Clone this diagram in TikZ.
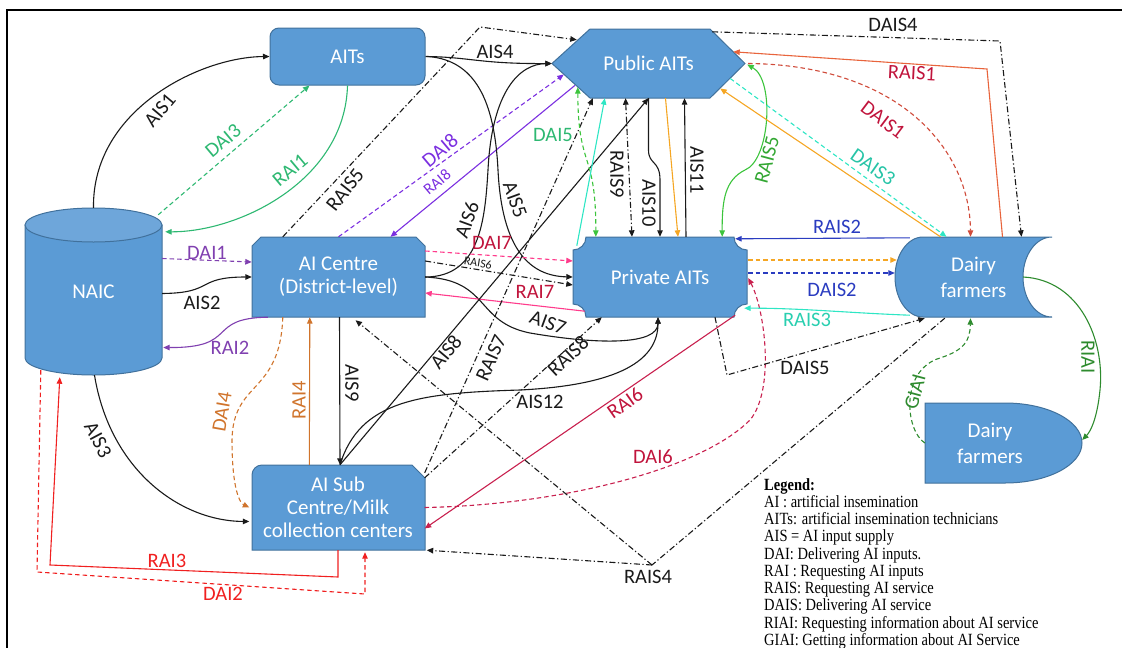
\documentclass[tikz,border=0pt]{standalone}
\usepackage{fontspec}
\usepackage{graphicx}
\setmainfont{Carlito}
\newfontfamily\legendfont{Liberation Serif}
\usetikzlibrary{arrows.meta,calc}
\definecolor{nb}{HTML}{5B9BD5}
\definecolor{nbd}{HTML}{41719C}
\definecolor{nbtop}{HTML}{6EA6DA}
\definecolor{ink}{HTML}{1A1A1A}
\definecolor{mint}{HTML}{2EB872}
\definecolor{lgreen}{HTML}{3CC43C}
\definecolor{dgreen}{HTML}{2E8B2E}
\definecolor{purp}{HTML}{8040B0}
\definecolor{viol}{HTML}{7B2FE0}
\definecolor{red1}{HTML}{F02020}
\definecolor{crim}{HTML}{C0143C}
\definecolor{crimline}{HTML}{C8204E}
\definecolor{pink1}{HTML}{FF3C8C}
\definecolor{brick}{HTML}{D04B3A}
\definecolor{orrd}{HTML}{E8643C}
\definecolor{brown1}{HTML}{D0742C}
\definecolor{gold1}{HTML}{F5A623}
\definecolor{turq}{HTML}{2EE6C4}
\definecolor{blue1}{HTML}{2A3CC0}
\tikzset{
  lbl/.style={font=\fontsize{20.5}{22}\selectfont, inner sep=0pt, text=ink},
  nodetxt/.style={font=\fontsize{21}{26}\selectfont, text=white, align=center, inner sep=0pt},
  shp/.style={fill=nb, draw=nbd, line width=1pt},
  con/.style={line width=1.1pt, ink, -{Triangle[length=6.5pt,width=5.5pt]}},
  dbl/.style={{Triangle[length=6.5pt,width=5.5pt]}-{Triangle[length=6.5pt,width=5.5pt]}},
  dsh/.style={dash pattern=on 4.5pt off 3pt},
  dd/.style={dash pattern=on 6pt off 2.5pt on 1.2pt off 2.5pt},
}
\begin{document}
\begin{tikzpicture}[x=1pt,y=-1pt]
\useasboundingbox (0,0) rectangle (1122,648);
\draw[line width=1.2pt] (7,648) -- (7,10) -- (1122,10);

% ---------- shapes ----------
\filldraw[shp] (552,63.5) -- (590,29) -- (710,29) -- (745,63.5) -- (710,98) -- (590,98) -- cycle;
\filldraw[shp] (25,225) -- (25,358) arc[start angle=180,end angle=0,x radius=68.5,y radius=17] -- (162,225) -- cycle;
\filldraw[shp, fill=nbtop] (93.5,225) ellipse[x radius=68.5,y radius=17];
\filldraw[shp] (252,246) -- (261,237) -- (416,237) -- (425,246) -- (425,317) -- (252,317) -- cycle;
\filldraw[shp] (586,237) -- (734,237) arc[start angle=180,end angle=90,radius=13] -- (747,304) arc[start angle=270,end angle=180,radius=13] -- (586,317) arc[start angle=360,end angle=270,radius=13] -- (573,250) arc[start angle=90,end angle=0,radius=13] -- cycle;
\filldraw[shp] (923,237) -- (1052,237) arc[start angle=270,end angle=90,x radius=29,y radius=40] -- (923,317) arc[start angle=90,end angle=270,x radius=28,y radius=40] -- cycle;
\filldraw[shp] (925,403) -- (1005,403) arc[start angle=270,end angle=450,x radius=77,y radius=40] -- (925,483) -- cycle;
\filldraw[shp] (252,475) arc[start angle=180,end angle=270,radius=10] -- (412,465) -- (425,478) -- (425,550) -- (252,550) -- cycle;

% ---------- nodes ----------
\node[nodetxt, shp, rounded corners=9pt, minimum width=155pt, minimum height=57pt] (aits) at (347.5,56.5) {AITs};
\node[nodetxt, minimum width=193pt, minimum height=69pt] (pub) at (648.5,63.5) {Public AITs};
\node[nodetxt, minimum width=137pt, minimum height=167pt] (naic) at (93.5,291.5) {\raisebox{-10pt}{NAIC}};
\node[nodetxt, minimum width=173pt, minimum height=80pt] (aic) at (338.5,277) {\raisebox{-3pt}{AI Centre}\\(District-level)};
\node[nodetxt, minimum width=174pt, minimum height=80pt] (priv) at (660,277) {Private AITs};
\node[nodetxt, minimum width=157pt, minimum height=80pt] (dairy) at (973.5,277) {Dairy\\farmers};
\node[nodetxt, minimum width=130pt, minimum height=80pt] (dairy2) at (990,443) {Dairy\\farmers};
\node[nodetxt, minimum width=173pt, minimum height=85pt, font=\fontsize{21}{23}\selectfont] (sub) at (338,507.5) {AI Sub\\Centre/Milk\\collection centers};

\node[anchor=north west, inner sep=0pt, text=black, font=\legendfont\fontsize{14.5}{14.6}\selectfont] (legend) at (764,478) {\scalebox{1}[1.18]{\begin{tabular}{@{}l@{}}\textbf{Legend:}\\AI : artificial insemination\\AITs: artificial insemination technicians\\AIS = AI input supply\\DAI: Delivering AI inputs.\\RAI : Requesting AI inputs\\RAIS: Requesting AI service\\DAIS: Delivering AI service\\RIAI: Requesting information about AI service\\GIAI: Getting information about AI Service\end{tabular}}};

% ---------- NAIC / AITs ----------
\draw[con] (naic.north) .. controls (92,110) and (200,57) .. (aits.west);
\node[lbl, rotate=50] (l1) at (160,110) {AIS1};
\draw[con, mint, dsh] ($(naic.north east)+(-4,7)$) -- ($(aits.south west)+(40,0)$);
\node[lbl, mint, rotate=40] (l2) at (223,141) {DAI3};
\draw[con, mint] (aits.south) .. controls (345,180) and (240,232) .. ($(naic.north east)+(3,24)$);
\node[lbl, mint, rotate=40] (l3) at (290,170) {RAI1};

% ---------- NAIC / AI Centre ----------
\draw[con, purp, dsh] ($(naic.east)+(0,-33)$) -- ($(aic.west)+(0,-15)$);
\node[lbl, purp] (l4) at (207,253) {DAI1};
\draw[con] ($(naic.east)+(0,2)$) .. controls (215,293) and (195,277) .. (aic.west);
\node[lbl] (l5) at (202,303) {AIS2};
\draw[con, purp] ($(aic.south west)+(16,0)$) .. controls (205,318) and (240,348) .. ($(naic.east)+(1,56)$);
\node[lbl, purp] (l6) at (230,348) {RAI2};

% ---------- NAIC / Sub ----------
\draw[con] ($(naic.south)+(1,0)$) .. controls (110,470) and (180,521) .. ($(sub.west)+(-2,14)$);
\node[lbl, rotate=-62] (l7) at (98,440) {AIS3};
\draw[con, red1] (sub.south) -- (338,577) -- (50,565) -- ($(naic.south west)+(35,2)$);
\node[lbl, red1] (l8) at (167,561) {RAI3};
\draw[con, red1, dsh] ($(naic.south west)+(16,-5)$) -- (37,572) -- (365,594) -- ($(sub.south)+(27,2)$);
\node[lbl, red1] (l9) at (223,594) {DAI2};

% ---------- AI Centre / Sub ----------
\draw[con, brown1, dsh] ($(aic.south west)+(31,0)$) .. controls (280,395) and (233,380) .. (232,440) .. controls (232,490) and (240,503) .. ($(sub.west)+(-2,0)$);
\node[lbl, brown1, rotate=80] (l10) at (222,412) {DAI4};
\draw[con, brown1] ($(sub.north west)+(58,0)$) -- ($(aic.south west)+(58,0)$);
\node[lbl, brown1, rotate=90] (l11) at (299,400) {RAI4};
\draw[con] ($(aic.south)+(1,0)$) -- ($(sub.north)+(2,0)$);
\node[lbl, rotate=-90] (l12) at (352,383) {AIS9};

% ---------- AI Centre / Public ----------
\draw[con, dd] ($(aic.north west)+(31,0)$) -- (480,27) -- ($(pub.north west)+(25,11)$);
\node[lbl, rotate=52] (l13) at (345,190) {RAIS5};
\draw[con, viol, dsh] (aic.north) -- ($(pub.west)+(12,11)$);
\node[lbl, viol, rotate=40] (l14) at (440,150) {DAI8};
\draw[con, viol] ($(pub.west)+(23,22)$) -- ($(aic.north)+(52,0)$);
\node[lbl, viol, rotate=40, font=\fontsize{16}{18}\selectfont] (l15) at (437,182) {RAI8};
\draw[con] (aits.east) .. controls (470,57) and (480,64) .. (pub.west);
\node[lbl] (l16) at (495,52) {AIS4};
\draw[con] ($(aits.east)+(2,0)$) .. controls (480,60) and (495,110) .. (498,170) .. controls (502,250) and (530,276) .. (priv.west);
\node[lbl, rotate=-70] (l17) at (515,200) {AIS5};
\draw[con] (aic.east) .. controls (480,277) and (485,220) .. (488,170) .. controls (492,90) and (520,64) .. (pub.west);
\node[lbl, rotate=70] (l18) at (467,220) {AIS6};

% ---------- AI Centre / Private ----------
\draw[con, pink1, dsh] ($(aic.east)+(0,-26)$) -- ($(priv.west)+(0,-16)$);
\node[lbl, crim] (l19) at (492,243) {DAI7};
\draw[con, dd] ($(aic.east)+(0,-16)$) -- ($(priv.west)+(0,8)$);
\node[lbl, rotate=-9, font=\fontsize{12}{14}\selectfont] (l20) at (478,263) {RAIS6};
\draw[con] (aic.east) .. controls (490,280) and (475,322) .. (530,333) .. controls (600,345) and (658,345) .. ($(priv.south)+(-2,0)$);
\node[lbl, rotate=-20] (l21) at (548,323) {AIS7};
\draw[con, pink1] ($(priv.south west)+(12,-6)$) -- ($(aic.east)+(0,16)$);
\node[lbl, crim] (l22) at (535,292) {RAI7};

% ---------- Sub / Public / Private ----------
\draw[con] ($(sub.north)+(2,0)$) -- (pub.south);
\node[lbl, rotate=50] (l23) at (446,352) {AIS8};
\draw[con] ($(sub.north)+(2,0)$) .. controls (360,400) and (420,393) .. (520,390) .. controls (620,385) and (658,360) .. ($(priv.south)+(-2,0)$);
\node[lbl] (l24) at (540,402) {AIS12};
\draw[con, dd] ($(sub.north east)+(0,8)$) -- ($(pub.south west)+(41,0)$);
\node[lbl, rotate=66] (l25) at (491,358) {RAIS7};
\draw[con, dd] ($(sub.north east)+(0,13)$) -- ($(priv.south west)+(29,0)$);
\node[lbl, rotate=43] (l26) at (568,356) {RAIS8};
\draw[con, crimline] ($(priv.south east)+(-12,-2)$) -- ($(sub.east)+(0,21)$);
\node[lbl, crim, rotate=35] (l27) at (625,403) {RAI6};
\draw[con, crimline, dsh] (sub.east) .. controls (560,505) and (700,470) .. (750,420) .. controls (775,390) and (765,310) .. ($(priv.east)+(1,1)$);
\node[lbl, crim] (l28) at (653,457) {DAI6};

% ---------- Public / Private ----------
\draw[con] (pub.south) -- (648.5,150) .. controls (648.5,165) and (660,160) .. (660,180) -- (priv.north);
\node[lbl, rotate=-90] (l29) at (649,203) {AIS10};
\draw[con, gold1] ($(pub.south)+(17,0)$) -- ($(priv.north)+(18,0)$);
\draw[con] ($(priv.north)+(26,0)$) -- ($(pub.south)+(36,0)$);
\node[lbl, rotate=-90] (l30) at (697,170) {AIS11};
\draw[con, dbl, dd] ($(pub.south)+(-23,0)$) -- ($(priv.north)+(-28,0)$);
\node[lbl, rotate=-90] (l31) at (617,174) {RAIS9};
\draw[con, dbl, lgreen, dsh] ($(pub.south west)+(26,-11)$) .. controls (578,170) and (596,150) .. ($(priv.north west)+(23,0)$);
\node[lbl, mint] (l32) at (553,135) {DAI5};
\draw[con, turq] ($(priv.north west)+(4,9)$) -- ($(pub.south west)+(53,0)$);
\draw[con, dbl, lgreen] ($(pub.east)+(2,1)$) .. controls (775,80) and (770,160) .. (745,170) .. controls (725,180) and (722,200) .. ($(priv.north east)+(-25,0)$);
\node[lbl, lgreen!85!black, rotate=75] (l33) at (767,160) {RAIS5};

% ---------- Public / Dairy ----------
\draw[con, brick, dsh] ($(pub.east)+(3,0)$) .. controls (900,65) and (970,150) .. ($(dairy.north)+(-3,0)$);
\node[lbl, crim, rotate=-37] (l34) at (883,120) {DAIS1};
\draw[con, orrd] ($(dairy.north)+(29,0)$) -- (987,69) -- ($(pub.north east)+(-12,23)$);
\node[lbl, crim, rotate=-3] (l35) at (912,73) {RAIS1};
\draw[con, dd] ($(pub.north east)+(-33,3)$) -- (1000,41) -- ($(dairy.north)+(48,0)$);
\node[lbl] (l36) at (893,25) {DAIS4};
\draw[con, turq, dsh] ($(pub.east)+(-15,15)$) -- ($(dairy.north)+(-27,0)$);
\node[lbl, turq!85!black, rotate=-35] (l37) at (873,167) {DAIS3};
\draw[con, gold1] ($(dairy.north)+(-33,0)$) -- ($(pub.east)+(-25,25)$);

% ---------- Private / Dairy ----------
\draw[con, blue1] ($(dairy.north west)+(15,1)$) -- ($(priv.north east)+(-12,2)$);
\node[lbl, blue1] (l38) at (837,227) {RAIS2};
\draw[con, gold1, dsh] ($(priv.east)+(1,-17)$) -- ($(dairy.west)+(2,-17)$);
\draw[con, blue1, dsh] ($(priv.east)+(1,-4)$) -- ($(dairy.west)+(0,-4)$);
\node[lbl, blue1] (l39) at (832,290) {DAIS2};
\draw[con, turq] ($(dairy.south west)+(15,-2)$) .. controls (850,313) and (800,308) .. ($(priv.south east)+(-3,-9)$);
\node[lbl, turq!90!black] (l40) at (807,320) {RAIS3};
\draw[con, dd] ($(priv.south)+(55,0)$) -- (727,375) -- ($(dairy.south west)+(30,1)$);
\node[lbl] (l41) at (805,368) {DAIS5};

% ---------- RAIS4 ----------
\coordinate (r4) at (652,565);
\draw[dd, line width=1.1pt, ink] ($(dairy.south west)+(50,1)$) -- (r4);
\draw[con, dd] (r4) -- ($(sub.south east)+(2,0)$);
\draw[con, dd] (r4) -- ($(aic.south)+(17,3)$);
\node[lbl] (l42) at (648,577) {RAIS4};

% ---------- Dairy / Dairy ----------
\draw[con, dgreen] ($(dairy.east)+(-29,0)$) .. controls (1080,280) and (1105,340) .. (1100,390) .. controls (1097,420) and (1090,432) .. ($(dairy2.east)+(27,-3)$);
\node[lbl, dgreen, rotate=-90] (l43) at (1088,357) {RIAI};
\draw[con, dgreen, dsh] (dairy2.west) .. controls (905,430) and (900,370) .. (940,358) .. controls (965,350) and (970,340) .. ($(dairy.south)+(-3,1)$);
\node[lbl, dgreen, rotate=75] (l44) at (915,392) {GIAI};
\end{tikzpicture}
\end{document}
